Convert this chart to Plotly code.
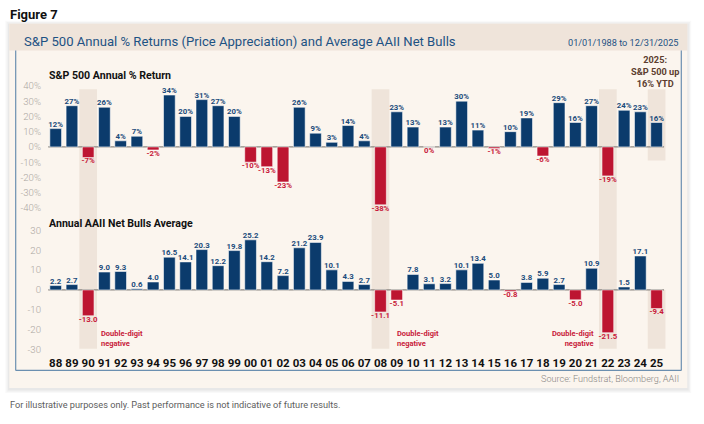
import plotly.graph_objects as go

W, H = 704, 424

years = ["88", "89", "90", "91", "92", "93", "94", "95", "96", "97", "98", "99",
         "00", "01", "02", "03", "04", "05", "06", "07", "08", "09",
         "10", "11", "12", "13", "14", "15", "16", "17", "18", "19", "20",
         "21", "22", "23", "24", "25"]
sp_returns = [12, 27, -7, 26, 4, 7, -2, 34, 20, 31, 27, 20,
              -10, -13, -23, 26, 9, 3, 14, 4, -38, 23,
              13, 0, 13, 30, 11, -1, 10, 19, -6, 29, 16,
              27, -19, 24, 23, 16]
aaii_net_bulls = [2.2, 2.7, -13.0, 9.0, 9.3, 0.6, 4.0, 16.5, 14.1, 20.3, 12.2, 19.8,
                  25.2, 14.2, 7.2, 21.2, 23.9, 10.1, 4.3, 2.7, -11.1, -5.1,
                  7.8, 3.1, 3.2, 10.1, 13.4, 5.0, -0.8, 3.8, 5.9, 2.7, -5.0,
                  10.9, -21.5, 1.5, 17.1, -9.4]
highlight_years = ["90", "08", "22"]
ytd_year = "25"
sp_ticks = [40, 30, 20, 10, 0, -10, -20, -30, -40]
aaii_ticks = [30, 20, 10, 0, -10, -20, -30]

NAVY = "#0b3b6c"
RED = "#bd1531"
NAVY_TXT = "#1c4c7c"
RED_TXT = "#c81a3a"
SHADE = "#efe4da"
CARD = "#fbf5ee"
FRAME = "#6b8fb0"

xs = list(range(len(years)))


def px_x(p):
    return p / W


def px_y(p):
    return 1 - p / H


# x-axis mapping: category i centred at 55.7 + 16.24*i px
def xdata(p):
    return (p - 55.7) / 16.24


X_DOM = [px_x(42), px_x(670)]
X_RANGE = [xdata(42), xdata(670)]

fig = go.Figure()

# bars
fig.add_trace(go.Bar(
    x=xs, y=sp_returns, xaxis="x", yaxis="y", width=0.72,
    marker=dict(color=[NAVY if v >= 0 else RED for v in sp_returns],
                line=dict(color="rgba(255,255,255,0.55)", width=1)),
    hoverinfo="skip", showlegend=False))
fig.add_trace(go.Bar(
    x=xs, y=aaii_net_bulls, xaxis="x2", yaxis="y2", width=0.72,
    marker=dict(color=[NAVY if v >= 0 else RED for v in aaii_net_bulls],
                line=dict(color="rgba(255,255,255,0.55)", width=1)),
    hoverinfo="skip", showlegend=False))

# value labels
lab_font = dict(family="Roboto", size=7.8, weight="bold")
fig.add_trace(go.Scatter(
    x=xs, y=sp_returns, xaxis="x", yaxis="y", mode="text",
    text=[f"{v}%" for v in sp_returns],
    textposition=["top center" if v > 0 else "bottom center" for v in sp_returns],
    textfont=dict(**lab_font, color=[NAVY_TXT if v > 0 else RED_TXT for v in sp_returns]),
    cliponaxis=False, hoverinfo="skip", showlegend=False))
fig.add_trace(go.Scatter(
    x=xs, y=aaii_net_bulls, xaxis="x2", yaxis="y2", mode="text",
    text=[f"{v:.1f}" for v in aaii_net_bulls],
    textposition=["top center" if v > 0 else "bottom center" for v in aaii_net_bulls],
    textfont=dict(**lab_font, color=[NAVY_TXT if v > 0 else RED_TXT for v in aaii_net_bulls]),
    cliponaxis=False, hoverinfo="skip", showlegend=False))

shapes = []
# card shadow
for i, a in enumerate([0.025, 0.03, 0.035]):
    d = 4 - i * 1.3
    shapes.append(dict(type="rect", xref="paper", yref="paper", layer="below",
                       x0=px_x(9.3 - d), x1=px_x(687.3 + d), y0=px_y(391.7 + d + 1), y1=px_y(24 - d + 1),
                       fillcolor=f"rgba(0,0,0,{a})", line=dict(width=0)))
# card
shapes.append(dict(type="rect", xref="paper", yref="paper", layer="below",
                   x0=px_x(9.3), x1=px_x(687.3), y0=px_y(391.7), y1=px_y(24),
                   fillcolor=CARD, line=dict(width=0)))
# title band
shapes.append(dict(type="rect", xref="paper", yref="paper", layer="below",
                   x0=px_x(9.3), x1=px_x(687.3), y0=px_y(51), y1=px_y(24),
                   fillcolor=SHADE, line=dict(width=0)))
# frame lines
for (xa, ya, xb, yb) in [(15.7, 51, 15.7, 374), (15.7, 374, 681.3, 374), (681.3, 51, 681.3, 374)]:
    shapes.append(dict(type="line", xref="paper", yref="paper", layer="below",
                       x0=px_x(xa), y0=px_y(ya), x1=px_x(xb), y1=px_y(yb),
                       line=dict(color=FRAME, width=1.2)))
# highlight columns
for yr in highlight_years:
    i = years.index(yr)
    shapes.append(dict(type="rect", xref="x", yref="paper", layer="below",
                       x0=i - 0.545, x1=i + 0.545, y0=px_y(352), y1=px_y(90),
                       fillcolor=SHADE, line=dict(width=0)))
i25 = years.index(ytd_year)
shapes.append(dict(type="rect", xref="x", yref="paper", layer="below",
                   x0=i25 - 0.545, x1=i25 + 0.545, y0=px_y(162), y1=px_y(90),
                   fillcolor=SHADE, line=dict(width=0)))
shapes.append(dict(type="rect", xref="x2", yref="paper", layer="below",
                   x0=i25 - 0.545, x1=i25 + 0.545, y0=px_y(352), y1=px_y(292.7),
                   fillcolor=SHADE, line=dict(width=0)))
# zero lines
shapes.append(dict(type="line", xref="x", yref="y", layer="below",
                   x0=-0.46, x1=len(years) - 1 + 0.46, y0=0, y1=0,
                   line=dict(color="#8c8782", width=1.2)))
shapes.append(dict(type="line", xref="x2", yref="y2", layer="below",
                   x0=-0.46, x1=len(years) - 1 + 0.46, y0=0, y1=0,
                   line=dict(color="#8c8782", width=1.2)))

ann = []


def note(text, x, y, size, color, bold=False, xanchor="left", align="left", family="Roboto", weight=None):
    f = dict(family=family, size=size, color=color)
    if bold:
        f["weight"] = "bold"
    if weight:
        f["weight"] = weight
    ann.append(dict(text=text, xref="paper", yref="paper", x=px_x(x), y=px_y(y),
                    xanchor=xanchor, yanchor="middle", align=align, showarrow=False, font=f))


note("Figure 7", 8, 15, 13, "#111111", bold=True)
note("S&amp;P 500 Annual % Returns (Price Appreciation) and Average AAII Net Bulls", 21.5, 41.7, 13.1, "#1d5283")
note("01/01/1988 to 12/31/2025", 681, 43.3, 9.2, "#1d5283", xanchor="right", align="right")
note("2025:<br>S&amp;P 500 up<br>16% YTD", 655, 72, 9.2, "#5c3d2e", bold=True, xanchor="center", align="center")
note("S&amp;P 500 Annual % Return", 46.5, 76, 10.6, "#111111", bold=True)
note("Annual AAII Net Bulls Average", 46.5, 226, 10.6, "#111111", bold=True)
note("Double-digit<br>negative", 98.5, 342, 7.5, RED_TXT, bold=True)
note("Double-digit<br>negative", 394.5, 342, 7.5, RED_TXT, bold=True)
note("Double-digit<br>negative", 595.5, 341.5, 7.5, RED_TXT, bold=True, xanchor="right", align="right")
note("Source: Fundstrat, Bloomberg, AAII", 681, 382.3, 9.1, "#8a8785", xanchor="right", align="right", weight=300)
note("For illustrative purposes only. Past performance is not indicative of future results.",
     8, 408.3, 9.2, "#5d5d5d")

tick_font = dict(family="Roboto", size=9.6, color="#aca7a2", weight=300)

fig.update_layout(
    width=W, height=H, margin=dict(l=0, r=0, t=0, b=0),
    paper_bgcolor="white", plot_bgcolor="rgba(0,0,0,0)",
    showlegend=False, barmode="overlay",
    shapes=shapes, annotations=ann,
    xaxis=dict(domain=X_DOM, range=X_RANGE, anchor="y", showticklabels=False,
               showgrid=False, zeroline=False, showline=False, ticks="", fixedrange=True),
    xaxis2=dict(domain=X_DOM, range=X_RANGE, anchor="y2", tickmode="array",
                tickvals=xs, ticktext=years, showgrid=False, zeroline=False, showline=False,
                ticks="", ticklabelstandoff=3,
                tickfont=dict(family="Roboto", size=11.5, color="#111111", weight="bold"),
                fixedrange=True),
    yaxis=dict(domain=[px_y(211.44), px_y(80.54)], range=[-41, 44], anchor="x",
               tickmode="array", tickvals=sp_ticks, ticktext=[f"{t}%" for t in sp_ticks],
               showgrid=False, zeroline=False, showline=False, ticks="", tickfont=tick_font,
               fixedrange=True),
    yaxis2=dict(domain=[px_y(354.9), px_y(226.48)], range=[-31, 33], anchor="x2",
                tickmode="array", tickvals=aaii_ticks, ticktext=[str(t) for t in aaii_ticks],
                showgrid=False, zeroline=False, showline=False, ticks="", tickfont=tick_font,
                fixedrange=True),
)

fig.write_html("out.html")
